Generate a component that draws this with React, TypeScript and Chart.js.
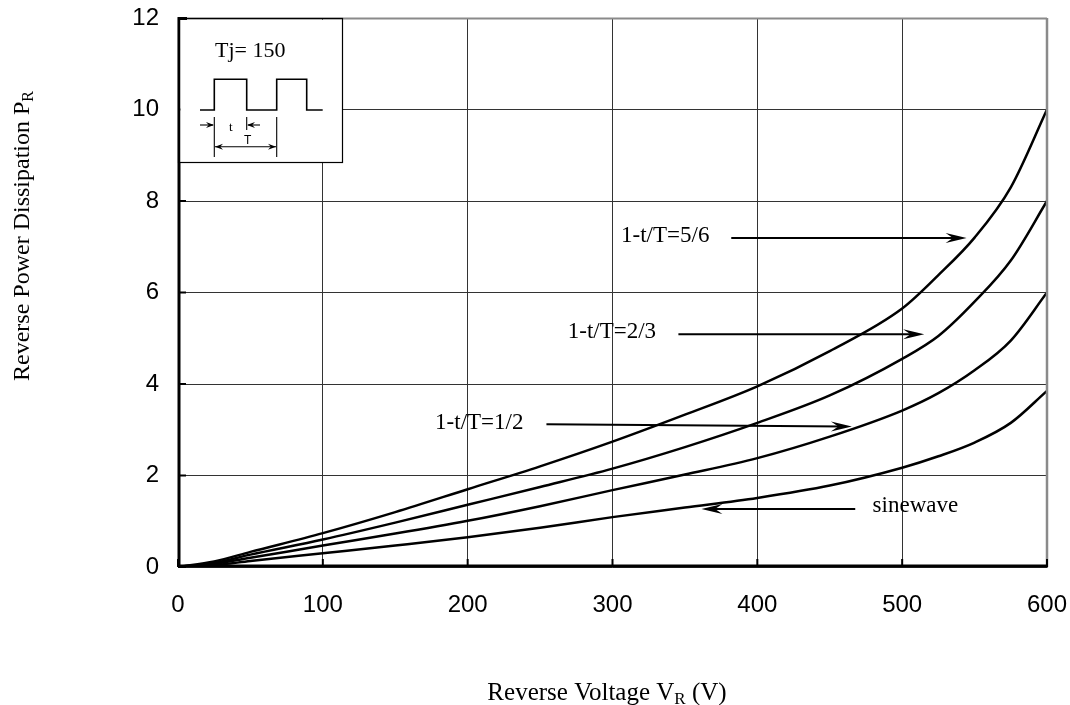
import React, { useEffect, useRef } from 'react';
import { Chart, registerables } from 'chart.js';

Chart.register(...registerables);

// ---- data ----
const voltages = [0, 25, 50, 100, 150, 200, 250, 300, 350, 400, 450, 500, 525, 550, 575, 600];
const dutyFiveSixths = [0, 0.12, 0.33, 0.74, 1.2, 1.7, 2.2, 2.74, 3.33, 3.95, 4.72, 5.65, 6.38, 7.2, 8.3, 10];
const dutyTwoThirds = [0, 0.09, 0.27, 0.6, 0.97, 1.36, 1.75, 2.15, 2.62, 3.15, 3.75, 4.55, 5.05, 5.8, 6.7, 8];
const dutyOneHalf = [0, 0.07, 0.2, 0.47, 0.73, 1.01, 1.33, 1.68, 2.02, 2.38, 2.85, 3.42, 3.8, 4.3, 4.95, 6];
const sineWave = [0, 0.04, 0.13, 0.3, 0.47, 0.65, 0.86, 1.09, 1.3, 1.51, 1.78, 2.17, 2.42, 2.72, 3.15, 3.85];

const xTicks = [0, 100, 200, 300, 400, 500, 600];
const yTicks = [0, 2, 4, 6, 8, 10, 12];

// annotation labels and arrows (in data units)
const annoText = ['1-t/T=5/6', '1-t/T=2/3', '1-t/T=1/2', 'sinewave'];
const annoTextV = [305.9, 269.1, 177.5, 479.6];
const annoTextP = [7.11, 5.0, 3.02, 1.21];
const arrowFromV = [382, 345.5, 254.4, 467.6];
const arrowFromP = [7.19, 5.09, 3.12, 1.27];
const arrowToV = [544.5, 515.2, 465.3, 361.4];
const arrowToP = [7.19, 5.09, 3.07, 1.27];

const insetTitle = 'Tj= 150';
const xTitle = 'Reverse Voltage V';
const xTitleSub = 'R';
const xTitleTail = ' (V)';
const yTitle = 'Reverse Power Dissipation P';
const yTitleSub = 'R';

const SANS = '"Liberation Sans", Arial, sans-serif';
const SERIF = '"Liberation Serif", "Times New Roman", serif';

function arrowHead(ctx: CanvasRenderingContext2D, x1: number, y1: number, x2: number, y2: number, len: number, half: number) {
  const a = Math.atan2(y2 - y1, x2 - x1);
  ctx.save();
  ctx.translate(x2, y2);
  ctx.rotate(a);
  ctx.beginPath();
  ctx.moveTo(0, 0);
  ctx.lineTo(-len, -half);
  ctx.lineTo(-len * 0.65, 0);
  ctx.lineTo(-len, half);
  ctx.closePath();
  ctx.fill();
  ctx.restore();
}

function line(ctx: CanvasRenderingContext2D, x1: number, y1: number, x2: number, y2: number) {
  ctx.beginPath();
  ctx.moveTo(x1, y1);
  ctx.lineTo(x2, y2);
  ctx.stroke();
}

const decorPlugin = {
  id: 'decor',
  afterDraw(chart: any) {
    const { ctx, chartArea, scales } = chart;
    const { left, right, top, bottom } = chartArea;
    const xs = scales.x;
    const ys = scales.y;
    ctx.save();

    // frame
    ctx.strokeStyle = '#8a8a8a';
    ctx.lineWidth = 2;
    line(ctx, left, top + 0.5, right, top + 0.5);
    ctx.lineWidth = 2.5;
    line(ctx, right, top, right, bottom);
    ctx.strokeStyle = '#000';
    ctx.lineWidth = 3;
    line(ctx, left + 1, top - 1, left + 1, bottom);
    line(ctx, left, bottom - 1, right + 1, bottom - 1);
    line(ctx, left, top + 0.5, left + 9, top + 0.5);

    // inside ticks
    ctx.lineWidth = 2;
    xTicks.forEach((v) => {
      const px = xs.getPixelForValue(v);
      line(ctx, px, bottom, px, bottom - 8);
    });
    yTicks.forEach((v) => {
      const py = ys.getPixelForValue(v);
      line(ctx, left, py, left + 8, py);
    });

    // inset box
    const bx = left, by = top, bw = 164, bh = 144;
    ctx.fillStyle = '#fff';
    ctx.fillRect(bx + 2.5, by + 2, bw - 2.5, bh - 2);
    ctx.strokeStyle = '#000';
    ctx.lineWidth = 1.2;
    ctx.strokeRect(bx + 0.5, by + 0.5, bw, bh);
    ctx.fillStyle = '#000';
    ctx.font = `22px ${SERIF}`;
    ctx.textBaseline = 'alphabetic';
    ctx.textAlign = 'left';
    ctx.fillText(insetTitle, bx + 37, by + 39);
    // square wave
    ctx.lineWidth = 1.6;
    ctx.beginPath();
    const base = by + 92, high = by + 61.3;
    ctx.moveTo(bx + 22, base);
    ctx.lineTo(bx + 36.3, base);
    ctx.lineTo(bx + 36.3, high);
    ctx.lineTo(bx + 68.7, high);
    ctx.lineTo(bx + 68.7, base);
    ctx.lineTo(bx + 98.7, base);
    ctx.lineTo(bx + 98.7, high);
    ctx.lineTo(bx + 128.7, high);
    ctx.lineTo(bx + 128.7, base);
    ctx.lineTo(bx + 144.7, base);
    ctx.stroke();
    // dimension marks
    ctx.lineWidth = 1.1;
    line(ctx, bx + 36.3, by + 99, bx + 36.3, by + 139);
    line(ctx, bx + 68.7, by + 99, bx + 68.7, by + 112);
    line(ctx, bx + 98.7, by + 99, bx + 98.7, by + 139);
    line(ctx, bx + 22, by + 107, bx + 35, by + 107);
    arrowHead(ctx, bx + 22, by + 107, bx + 36, by + 107, 8, 3);
    line(ctx, bx + 82, by + 107, bx + 70, by + 107);
    arrowHead(ctx, bx + 82, by + 107, bx + 69, by + 107, 8, 3);
    line(ctx, bx + 37, by + 128.7, bx + 98, by + 128.7);
    arrowHead(ctx, bx + 60, by + 128.7, bx + 37, by + 128.7, 8, 3);
    arrowHead(ctx, bx + 70, by + 128.7, bx + 98, by + 128.7, 8, 3);
    ctx.font = `13px ${SERIF}`;
    ctx.fillText('t', bx + 51, by + 113);
    ctx.font = `12px ${SANS}`;
    ctx.fillText('T', bx + 66, by + 126);

    // annotations
    ctx.font = `23px ${SERIF}`;
    ctx.lineWidth = 2;
    annoText.forEach((t, i) => {
      ctx.fillText(t, xs.getPixelForValue(annoTextV[i]), ys.getPixelForValue(annoTextP[i]));
      const x1 = xs.getPixelForValue(arrowFromV[i]);
      const y1 = ys.getPixelForValue(arrowFromP[i]);
      const x2 = xs.getPixelForValue(arrowToV[i]);
      const y2 = ys.getPixelForValue(arrowToP[i]);
      const dir = Math.sign(x2 - x1);
      line(ctx, x1, y1, x2 - dir * 8, y2);
      arrowHead(ctx, x1, y1, x2, y2, 21, 5);
    });

    // axis titles
    const xF = `25px ${SERIF}`;
    const xSubF = `17px ${SERIF}`;
    ctx.font = xF;
    const wMain = ctx.measureText(xTitle).width;
    const wTail = ctx.measureText(xTitleTail).width;
    ctx.font = xSubF;
    const wSub = ctx.measureText(xTitleSub).width;
    const totalX = wMain + wSub + wTail;
    const cx = 607 - totalX / 2;
    const baseX = 700;
    ctx.font = xF;
    ctx.fillText(xTitle, cx, baseX);
    ctx.font = xSubF;
    ctx.fillText(xTitleSub, cx + wMain, baseX + 4);
    ctx.font = xF;
    ctx.fillText(xTitleTail, cx + wMain + wSub, baseX);

    const yF = `24px ${SERIF}`;
    const ySubF = `16px ${SERIF}`;
    ctx.save();
    ctx.translate(29, 236);
    ctx.rotate(-Math.PI / 2);
    ctx.font = yF;
    const wy = ctx.measureText(yTitle).width;
    ctx.font = ySubF;
    const wys = ctx.measureText(yTitleSub).width;
    const sx = -(wy + wys) / 2;
    ctx.font = yF;
    ctx.fillText(yTitle, sx, 0);
    ctx.font = ySubF;
    ctx.fillText(yTitleSub, sx + wy, 4);
    ctx.restore();

    ctx.restore();
  },
};

const zeroPad = (s: any) => {
  s.paddingTop = 0;
  s.paddingBottom = 0;
  s.paddingLeft = 0;
  s.paddingRight = 0;
};

export default function App() {
  const ref = useRef<HTMLCanvasElement | null>(null);
  useEffect(() => {
    if (!ref.current) return;
    const mk = (data: number[]) => ({
      data: voltages.map((v, i) => ({ x: v, y: data[i] })),
      borderColor: '#000',
      borderWidth: 2.5,
      pointRadius: 0,
      fill: false,
      cubicInterpolationMode: 'monotone' as const,
    });
    const chart = new Chart(ref.current, {
      type: 'line',
      data: {
        datasets: [mk(dutyFiveSixths), mk(dutyTwoThirds), mk(dutyOneHalf), mk(sineWave)],
      },
      options: {
        responsive: false,
        animation: false,
        layout: { padding: { left: 0, top: 18, right: 23, bottom: 0 } },
        plugins: { legend: { display: false }, tooltip: { enabled: false } },
        scales: {
          x: {
            type: 'linear',
            min: 0,
            max: 600,
            afterFit: (s: any) => { s.height = 138; zeroPad(s); },
            afterBuildTicks: (s: any) => { s.ticks = xTicks.map((v) => ({ value: v })); },
            ticks: { color: '#000', font: { family: SANS, size: 24 }, padding: 24, maxRotation: 0 },
            grid: { color: '#333', lineWidth: 1, drawTicks: false },
            border: { display: false },
          },
          y: {
            type: 'linear',
            min: 0,
            max: 12,
            afterFit: (s: any) => { s.width = 178; zeroPad(s); },
            afterBuildTicks: (s: any) => { s.ticks = yTicks.map((v) => ({ value: v })); },
            ticks: { color: '#000', font: { family: SANS, size: 24 }, padding: 19 },
            grid: { color: '#333', lineWidth: 1, drawTicks: false },
            border: { display: false },
          },
        },
      },
      plugins: [decorPlugin],
    });
    return () => chart.destroy();
  }, []);
  return (
    <div style={{ position: 'absolute', left: 0, top: 0, width: 1070, height: 705, background: '#fff' }}>
      <canvas ref={ref} width={1070} height={705} />
    </div>
  );
}
